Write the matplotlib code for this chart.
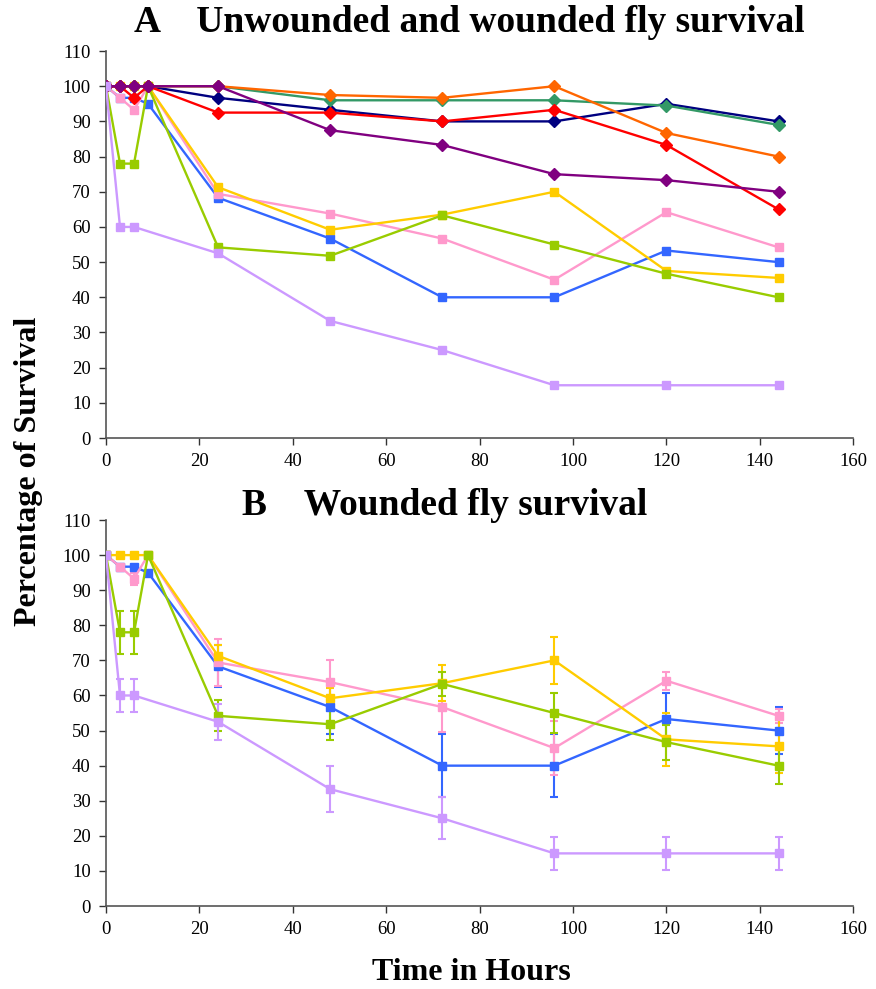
import matplotlib
matplotlib.use("Agg")
import matplotlib.pyplot as plt
import numpy as np

plt.rcParams['font.family'] = ['Liberation Serif', 'DejaVu Serif']

# Sampling times (hours)
hours = [0, 3, 6, 9, 24, 48, 72, 96, 120, 144]
hours_lav = [0, 3, 6, 24, 48, 72, 96, 120, 144]

# Unwounded flies (diamonds)
unw_navy = [100, 100, 100, 100, 96.7, 93.3, 90, 90, 95, 90]
unw_green = [100, 100, 100, 100, 100, 96, 96, 96, 94.5, 89]
unw_orange = [100, 100, 100, 100, 100, 97.5, 96.7, 100, 86.7, 80]
unw_red = [100, 100, 96.7, 100, 92.5, 92.5, 90, 93.3, 83.3, 65]
unw_purple = [100, 100, 100, 100, 100, 87.5, 83.3, 75, 73.3, 70]

# Wounded flies (squares)
w_blue = [100, 96.7, 96.7, 95, 68.3, 56.7, 40, 40, 53.3, 50]
w_pink = [100, 96.7, 93.3, 100, 69.4, 63.8, 56.7, 45, 64.2, 54.2]
w_yellow = [100, 100, 100, 100, 71.3, 59.2, 63.5, 70, 47.5, 45.5]
w_lime = [100, 78, 78, 100, 54.2, 51.8, 63.3, 55, 46.7, 40]
w_lav = [100, 60, 60, 52.5, 33.3, 25, 15, 15, 15]

# Standard errors for wounded flies
e_blue = [0, 0, 0, 0, 6, 7.7, 9, 9, 7.5, 6.8]
e_pink = [0, 0, 1.7, 0, 6.6, 6.2, 7, 7.7, 2.5, 2]
e_yellow = [0, 0, 0, 0, 3, 3, 5.2, 6.7, 7.5, 7.5]
e_lime = [0, 6.1, 6.1, 0, 4.4, 4.6, 3.4, 5.7, 5, 5.2]
e_lav = [0, 4.6, 4.6, 5.1, 6.6, 6, 4.7, 4.7, 4.7]

C_NAVY = '#000080'
C_GREEN = '#339966'
C_ORANGE = '#FF6600'
C_RED = '#FF0000'
C_PURPLE = '#800080'
C_BLUE = '#3366FF'
C_PINK = '#FF99CC'
C_YELLOW = '#FFCC00'
C_LIME = '#99CC00'
C_LAV = '#CC99FF'

fig = plt.figure(figsize=(8.76, 9.89), dpi=100)
axA = fig.add_axes([0.121, 0.5571, 0.853, 0.3913])
axB = fig.add_axes([0.121, 0.0839, 0.853, 0.3903])

lw = 1.7
ms_sq = 5.8
ms_di = 5.8

wounded = [(w_blue, e_blue, C_BLUE, hours),
           (w_pink, e_pink, C_PINK, hours),
           (w_yellow, e_yellow, C_YELLOW, hours),
           (w_lime, e_lime, C_LIME, hours)]
unwounded = [(unw_navy, C_NAVY), (unw_green, C_GREEN), (unw_orange, C_ORANGE),
             (unw_red, C_RED), (unw_purple, C_PURPLE)]

# Panel A: all groups
for vals, _, col, t in wounded:
    axA.plot(t, vals, color=col, lw=lw, marker='s', ms=ms_sq, zorder=3)
for vals, col in unwounded:
    axA.plot(hours, vals, color=col, lw=lw, marker='D', ms=ms_di, zorder=4)
axA.plot(hours_lav, w_lav, color=C_LAV, lw=lw, marker='s', ms=ms_sq, zorder=5)

# Panel B: wounded groups with error bars
for vals, err, col, t in wounded + [(w_lav, e_lav, C_LAV, hours_lav)]:
    axB.errorbar(t, vals, yerr=err, color=col, lw=lw, marker='s', ms=ms_sq,
                 elinewidth=1.5, capsize=3, capthick=1.5, zorder=3)

for ax in (axA, axB):
    ax.set_xlim(0, 160)
    ax.set_ylim(0, 110)
    ax.set_xticks(np.arange(0, 161, 20))
    ax.set_yticks(np.arange(0, 111, 10))
    ax.spines['top'].set_visible(False)
    ax.spines['right'].set_visible(False)
    ax.spines['left'].set_linewidth(1.2)
    ax.spines['bottom'].set_linewidth(1.2)
    ax.spines['left'].set_color('#555555')
    ax.spines['bottom'].set_color('#555555')
    ax.tick_params(direction='out', length=5, width=1.0, labelsize=13.5,
                   color='#333333', pad=6)

fig.text(0.536, 0.977, 'A    Unwounded and wounded fly survival', ha='center',
         va='center', fontsize=27, fontweight='bold')
fig.text(0.508, 0.489, 'B    Wounded fly survival', ha='center',
         va='center', fontsize=27, fontweight='bold')
fig.text(0.032, 0.523, 'Percentage of Survival', rotation=90, ha='center',
         va='center', fontsize=23, fontweight='bold')
fig.text(0.538, 0.017, 'Time in Hours', ha='center', va='center',
         fontsize=23, fontweight='bold')

fig.savefig('out.png', dpi=100)
